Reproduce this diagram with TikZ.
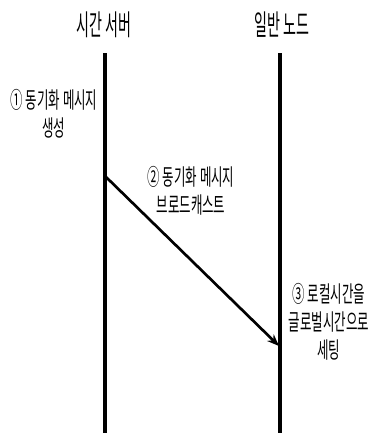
\documentclass[tikz,border=0pt]{standalone}
\usepackage{fontspec}
\newfontfamily\krtitle[FakeStretch=0.49]{Noto Sans CJK KR}
\newfontfamily\krtext[FakeStretch=0.55]{Noto Sans CJK KR}
\usetikzlibrary{arrows.meta}

\begin{document}
\begin{tikzpicture}[x=0.75pt, y=-0.75pt, >={Stealth[length=9pt,width=7pt]},
		title/.style={font=\krtitle\fontsize{21.5pt}{24pt}\selectfont},
		note/.style={font=\krtext\fontsize{17pt}{21pt}\selectfont, align=center, inner sep=0pt},
		life/.style={line width=3pt},
		msg/.style={line width=2pt, ->}]
				\useasboundingbox (0,0) rectangle (371,433);

				% Manual node positions
				\node[title] (server) at (104,25) {시간 서버};
				\node[title] (client) at (282,25) {일반 노드};
				\coordinate (S1) at (105,53);
				\coordinate (S2) at (105,433);
				\coordinate (C1) at (280,53);
				\coordinate (C2) at (280,433);
				\coordinate (send) at (105,176);
				\coordinate (recv) at (279,346);

				% Notes
				\node[note] (gen) at (54,114) {① 동기화 메시지\\생성};
				\node[note] (bcast) at (191,191) {② 동기화 메시지\\브로드캐스트};
				\node[note] (set) at (329,322) {③ 로컬시간을\\글로벌시간으로\\세팅};

				% Connections
				\draw[life] (S1) -- (S2);
				\draw[life] (C1) -- (C2);
				\draw[msg] (send) -- (recv);

			\end{tikzpicture}
\end{document}
